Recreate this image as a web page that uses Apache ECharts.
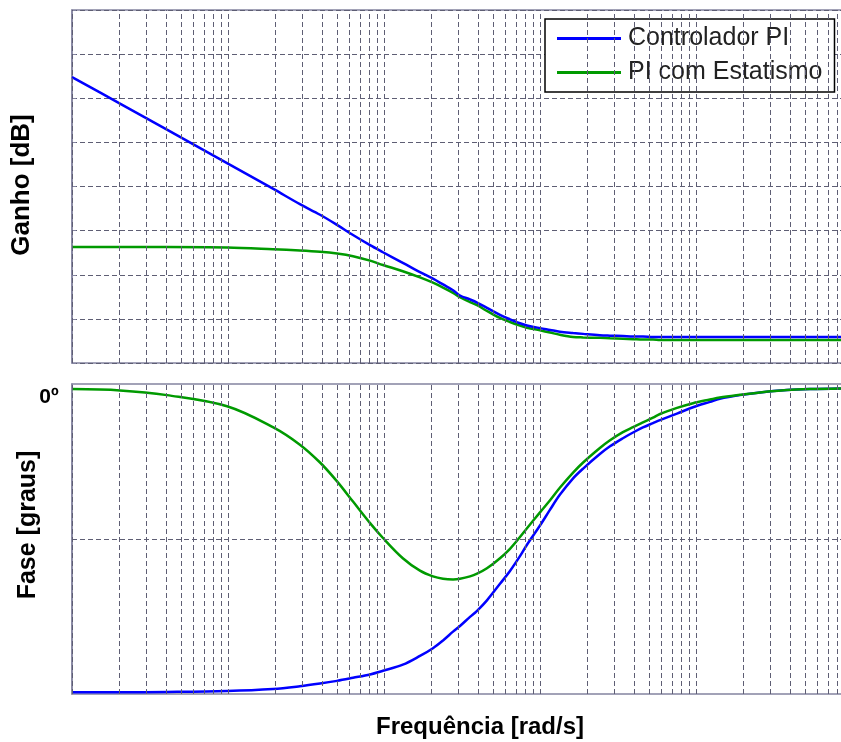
<!DOCTYPE html>
<html><head><meta charset="utf-8">
<script src="https://cdn.jsdelivr.net/npm/echarts@6/dist/echarts.min.js"></script>
<style>html,body{margin:0;padding:0;background:#fff}#c{width:841px;height:742px}</style>
</head><body><div id="c"></div>
<script>
// Frequencies (rad/s), log axis
const freq = [0.0100,0.0203,0.0406,0.0986,0.194,0.289,0.389,0.500,0.633,0.814,0.985,1.32,1.70,2.06,2.39,2.77,3.07,3.56,3.95,4.57,5.54,6.42,7.44,8.25,10.0,11.6,13.4,16.3,18.9,24.2,28.1,34.0,39.5,45.7,53.0,58.8,75.5,95.7,123,142,191,257,383,538,850];
// Gain (dB, relative scale)
const gainPI = [64.8,58.8,52.9,45.3,39.5,36.0,33.6,31.3,29.0,26.7,25.1,22.7,20.6,19.1,17.8,16.5,15.3,14.4,13.7,12.5,10.9,9.9,9.0,8.5,7.9,7.5,7.1,6.8,6.6,6.3,6.2,6.1,6.0,6.0,5.9,5.9,5.9,5.9,5.9,5.9,5.9,5.9,5.9,5.9,5.9];
const gainDroop = [26.3,26.3,26.3,26.2,25.8,25.5,25.2,24.8,24.2,23.2,22.2,20.8,19.4,18.2,17.1,15.9,14.9,13.8,13.1,11.8,10.2,9.3,8.5,8.0,7.4,6.9,6.4,5.9,5.8,5.7,5.6,5.5,5.4,5.3,5.3,5.2,5.2,5.2,5.2,5.2,5.2,5.2,5.2,5.2,5.2];
// Phase (degrees)
const phasePI = [-90,-90,-89.9,-89.6,-89.0,-88.2,-87.4,-86.6,-85.7,-84.7,-83.6,-81.8,-79.2,-76.9,-74.6,-72.0,-70.3,-67.6,-65.8,-62.7,-57.8,-54.0,-49.6,-46.2,-40.5,-35.8,-31.4,-26.5,-23.6,-19.3,-17.0,-14.6,-12.9,-11.4,-10.1,-9.2,-7.3,-5.4,-3.8,-2.9,-1.8,-1.0,-0.3,0,0.2];
const phaseDroop = [0,-0.4,-1.8,-5.1,-11.3,-16.5,-21.8,-27.4,-33.4,-39.8,-44.2,-50.2,-53.9,-55.6,-56.3,-56.5,-56.3,-55.6,-54.8,-53.2,-50.2,-47.4,-43.9,-41.3,-36.6,-33.0,-29.3,-24.8,-21.8,-17.5,-15.2,-12.8,-11.3,-9.9,-8.5,-7.4,-5.6,-4.2,-3.1,-2.5,-1.7,-1.0,-0.3,0,0.2];
const seriesNames = ['Controlador PI','PI com Estatismo'];
// Log grid lines
const decades = [0.01,0.1,1,10,100];
const multipliers = [1,2,3,4,5,6,7,8,9];
const phaseGrid = [-44.5];

const BLUE = '#0000ff', GREEN = '#009a00';
const GRIDC = '#5e5e74', AXISC = '#8484a0';
const FONT = '"Liberation Sans", Arial, sans-serif';

const vLines = [];
decades.forEach(d => multipliers.forEach(m => vLines.push({xAxis: +(d*m).toPrecision(3)})));
vLines.push({xAxis: 1000});

const zip = a => freq.map((f,i) => [f, a[i]]);
const dash = {type:[5,3], color:GRIDC, width:1};
const curve = (name, xi, data, color, z) => ({
  name, type:'line', xAxisIndex:xi, yAxisIndex:xi, data:zip(data), showSymbol:false, symbol:'none',
  smooth:0.35, z, color, lineStyle:{width:2.5, color}
});

const chart = echarts.init(document.getElementById('c'), null, {renderer:'canvas'});
chart.setOption({
  animation:false,
  backgroundColor:'#fff',
  grid:[
    {left:72, top:10, width:780, height:353, outerBoundsMode:'none', containLabel:false, show:true, borderColor:AXISC, borderWidth:1.5, backgroundColor:'#fff'},
    {left:72, top:384, width:780, height:310, outerBoundsMode:'none', containLabel:false, show:true, borderColor:AXISC, borderWidth:1.5, backgroundColor:'#fff'}
  ],
  xAxis:[
    {type:'log', logBase:10, gridIndex:0, min:0.01, max:1000, axisLabel:{show:false}, axisTick:{show:false}, splitLine:{show:false}, axisLine:{show:false}},
    {type:'log', logBase:10, gridIndex:1, min:0.01, max:1000, axisLabel:{show:false}, axisTick:{show:false}, splitLine:{show:false}, axisLine:{show:false}}
  ],
  yAxis:[
    {type:'value', gridIndex:0, min:0, max:80, interval:10, axisLabel:{show:false},
     axisLine:{show:true, lineStyle:{color:AXISC, width:1.5}},
     axisTick:{show:true, inside:true, length:4, lineStyle:{color:AXISC}},
     splitLine:{show:true, lineStyle:dash}},
    {type:'value', gridIndex:1, min:-90.5, max:1.5, axisLabel:{show:false},
     axisLine:{show:true, lineStyle:{color:AXISC, width:1.5}},
     axisTick:{show:false}, splitLine:{show:false}}
  ],
  legend:{
    data:seriesNames, orient:'vertical', left:545, top:19,
    padding:[7,12,7,12], itemGap:9, itemWidth:64, itemHeight:3, icon:'rect',
    backgroundColor:'#fff', borderColor:'#000', borderWidth:1.5, borderRadius:0,
    textStyle:{fontSize:25, fontFamily:FONT, color:'#222', padding:[0,0,0,2]}
  },
  series:[
    {type:'line', xAxisIndex:0, yAxisIndex:0, data:[], z:1, silent:true,
     markLine:{silent:true, symbol:['none','none'], label:{show:false}, lineStyle:dash, data:vLines}},
    {type:'line', xAxisIndex:1, yAxisIndex:1, data:[], z:1, silent:true,
     markLine:{silent:true, symbol:['none','none'], label:{show:false}, lineStyle:dash,
       data: vLines.concat(phaseGrid.map(v => ({yAxis:v})))}},
    curve(seriesNames[0], 0, gainPI, BLUE, 4),
    curve(seriesNames[1], 0, gainDroop, GREEN, 3),
    curve(seriesNames[0], 1, phasePI, BLUE, 3),
    curve(seriesNames[1], 1, phaseDroop, GREEN, 4)
  ],
  graphic:[
    {type:'text', x:22, y:185, rotation:Math.PI/2, style:{text:'Ganho [dB]', font:'bold 26px '+FONT, fill:'#000', align:'center', verticalAlign:'middle'}},
    {type:'text', x:28, y:525, rotation:Math.PI/2, style:{text:'Fase [graus]', font:'bold 25px '+FONT, fill:'#000', align:'center', verticalAlign:'middle'}},
    {type:'text', x:49, y:397, style:{text:'0º', font:'bold 21px '+FONT, fill:'#000', align:'center', verticalAlign:'middle'}},
    {type:'text', x:480, y:727, style:{text:'Frequência [rad/s]', font:'bold 24px '+FONT, fill:'#000', align:'center', verticalAlign:'middle'}}
  ]
});
</script></body></html>
